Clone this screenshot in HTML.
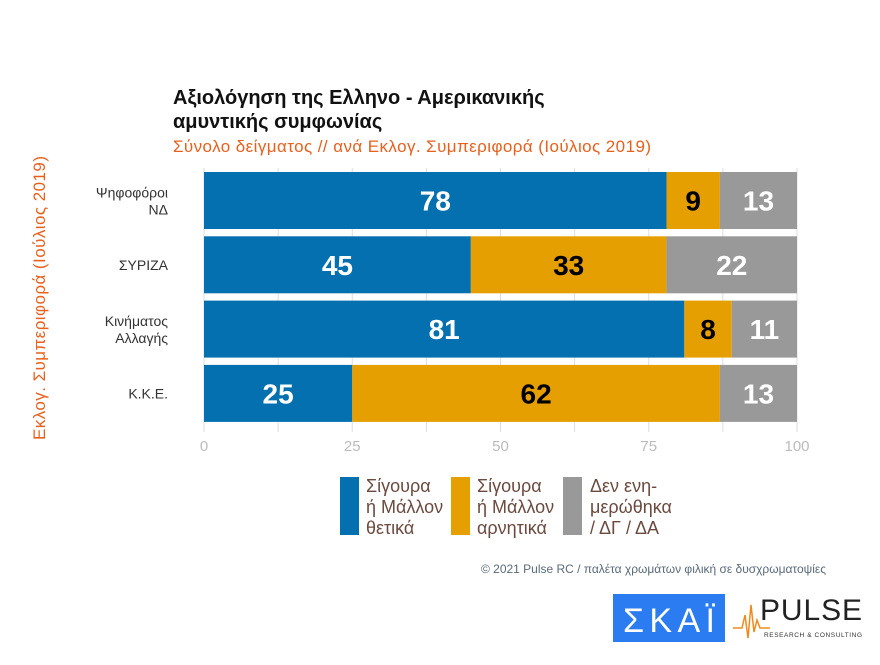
<!DOCTYPE html>
<html><head><meta charset="utf-8"><style>
body{margin:0;background:#fff;width:880px;height:660px;overflow:hidden}
svg text{font-family:"Liberation Sans Narrow","Liberation Sans",sans-serif}
</style></head><body>
<svg id="c" width="880" height="660">
<text x="173" y="104" font-size="20" font-weight="bold" fill="#111">Αξιολόγηση της Ελληνο - Αμερικανικής</text>
<text x="173" y="128" font-size="20" font-weight="bold" fill="#111">αμυντικής συμφωνίας</text>
<text x="173" y="152" font-size="17" fill="#e8601c" textLength="478">Σύνολο δείγματος // ανά Εκλογ. Συμπεριφορά (Ιούλιος 2019)</text>
<text transform="translate(45,298) rotate(-90)" text-anchor="middle" font-size="17" fill="#e8601c" textLength="284">Εκλογ. Συμπεριφορά (Ιούλιος 2019)</text>
<g id="grid"></g><g id="bars"></g>
<g font-size="18" fill="#6b4a3f">
<rect x="340" y="477" width="19" height="58" fill="#0570b0"/>
<text x="366" y="492"><tspan x="366">Σίγουρα</tspan><tspan x="366" dy="21">ή Μάλλον</tspan><tspan x="366" dy="21">θετικά</tspan></text>
<rect x="451" y="477" width="19" height="58" fill="#e69f00"/>
<text x="477" y="492"><tspan x="477">Σίγουρα</tspan><tspan x="477" dy="21">ή Μάλλον</tspan><tspan x="477" dy="21">αρνητικά</tspan></text>
<rect x="563" y="477" width="19" height="58" fill="#999"/>
<text x="590" y="492"><tspan x="590">Δεν ενη-</tspan><tspan x="590" dy="21">μερώθηκα</tspan><tspan x="590" dy="21">/ ΔΓ / ΔΑ</tspan></text>
</g>
<text x="481" y="573" font-size="12" fill="#5a6a7a" textLength="345">© 2021 Pulse RC   /   παλέτα χρωμάτων φιλική σε δυσχρωματοψίες</text>
<rect x="613" y="594" width="112" height="48" fill="#2b7cf0"/>
<text x="669" y="632" text-anchor="middle" font-size="34" fill="#fff" textLength="92">ΣΚΑΪ</text>
<polyline points="733,628 742,628 745,615 748,638 751,605 754,632 757,620 760,628 770,628" fill="none" stroke="#f08a1c" stroke-width="1.5"/>
<text x="760" y="620" font-size="30" fill="#222" textLength="102">PULSE</text>
<text x="764" y="637" font-size="6.5" fill="#333" textLength="98">RESEARCH &amp; CONSULTING</text>
</svg>
<script>
const categories=[["Ψηφοφόροι","ΝΔ"],["ΣΥΡΙΖΑ"],["Κινήματος","Αλλαγής"],["Κ.Κ.Ε."]];
const positive=[78,45,81,25];
const negative=[9,33,8,62];
const unaware=[13,22,11,13];
const ticks=[0,25,50,75,100];
const NS="http://www.w3.org/2000/svg";
const x0=204,x1=797,yTop=172,rowH=64.3,barH=57;
const xs=v=>x0+(x1-x0)*v/100;
function mk(t,a,p){const e=document.createElementNS(NS,t);for(const k in a)e.setAttribute(k,a[k]);p.appendChild(e);return e;}
const grid=document.getElementById('grid'),bars=document.getElementById('bars');
for(let v=0;v<=100;v+=12.5){const l=mk('line',{x1:xs(v),x2:xs(v),y1:168,y2:432,stroke:'#ddd','stroke-width':1},grid);

}
ticks.forEach(t=>{const e=mk('text',{x:xs(t),y:451,'text-anchor':'middle','font-size':15,fill:'#bbb'},grid);e.textContent=t;

});
const series=[[positive,'#0570b0','#fff','positive'],[negative,'#e69f00','#000','negative'],[unaware,'#999','#fff','unaware']];
categories.forEach((c,i)=>{const y=yTop+i*rowH;let acc=0;
series.forEach(([arr,col,tc,nm])=>{const v=arr[i];
const r=mk('rect',{x:xs(acc),y:y,width:xs(acc+v)-xs(acc),height:barH,fill:col},bars);


const t=mk('text',{x:(xs(acc)+xs(acc+v))/2,y:y+barH/2+10,'text-anchor':'middle','font-size':28,'font-weight':'bold',fill:tc},bars);t.textContent=v;


acc+=v;});
const lt=mk('text',{x:168,'text-anchor':'end','font-size':14,fill:'#333'},bars);
const cy=y+barH/2;lt.setAttribute('y',c.length>1?cy-3:cy+5);
c.forEach((s,j)=>{const ts=mk('tspan',{x:168,dy:j?17:0},lt);ts.textContent=s;});


});
</script>
</body></html>
